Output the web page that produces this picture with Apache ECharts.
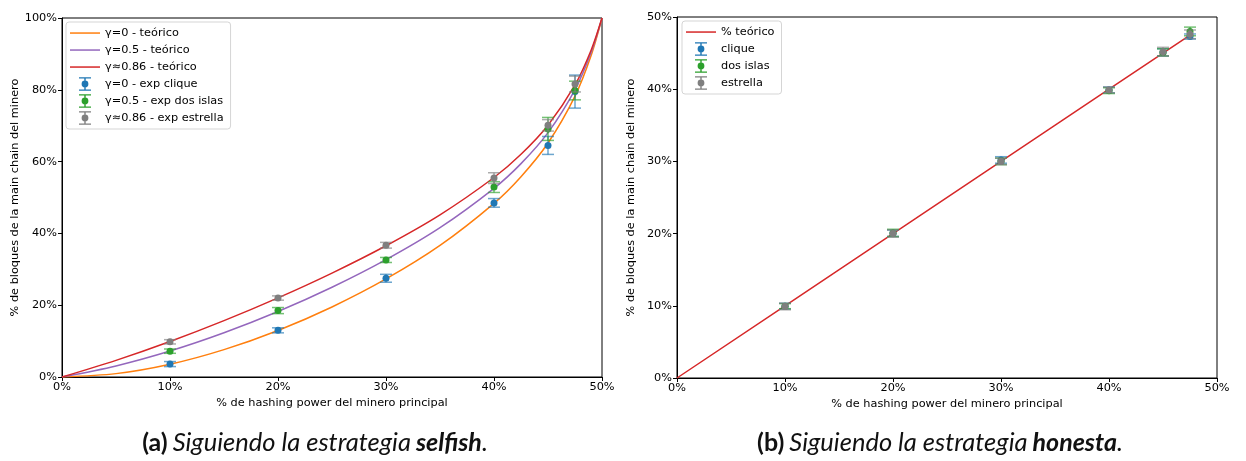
<!DOCTYPE html>
<html>
<head>
<meta charset="utf-8">
<script src="https://cdn.jsdelivr.net/npm/echarts@6/dist/echarts.min.js"></script>
<style>
  html, body { margin: 0; padding: 0; background: #fff; }
  #chart { width: 1246px; height: 461px; }
</style>
</head>
<body>
<div id="chart"></div>
<script>
// ---- Panel (a): selfish strategy ----
// theoretical revenue curves (x = hashing power %, y = share of main-chain blocks %)
const alphaPts = [0, 5, 10, 15, 20, 25, 30, 35, 40, 42.5, 45, 47.5, 49, 50];
const teoG0    = [0, 0.94, 3.56, 7.63, 12.97, 19.51, 27.31, 36.65, 48.37, 55.80, 65.18, 78.25, 89.63, 100];
const teoG05   = [0, 3.09, 7.24, 12.32, 18.24, 25.00, 32.69, 41.60, 52.56, 59.43, 68.06, 80.06, 90.49, 100];
const teoG086  = [0, 4.64, 9.89, 15.70, 22.04, 28.95, 36.56, 45.17, 55.57, 62.04, 70.14, 81.37, 91.11, 100];

// experimental runs
const expX = [10, 20, 30, 40, 45, 47.5];
const cliqueA      = [3.6, 13.0, 27.5, 48.5, 64.5, 79.5];
const cliqueAErr   = [0.7, 0.7, 1.1, 1.2, 2.5, 4.6];
const dosIslasA    = [7.2, 18.5, 32.6, 52.9, 69.1, 79.8];
const dosIslasAErr = [0.6, 0.85, 0.7, 1.5, 3.2, 2.6];
const estrellaA    = [9.8, 22.0, 36.7, 55.4, 70.1, 81.6];
const estrellaAErr = [0.6, 0.6, 0.8, 1.5, 1.6, 2.2];

// ---- Panel (b): honest strategy ----
const teoHonestX = [0, 10, 20, 30, 40, 45, 47.5];
const teoHonestY = [0, 10, 20, 30, 40, 45, 47.5];
const cliqueB      = [9.95, 20.05, 30.2, 39.9, 45.1, 47.3];
const cliqueBErr   = [0.4, 0.45, 0.45, 0.4, 0.5, 0.35];
const dosIslasB    = [9.95, 20.1, 30.0, 39.8, 45.1, 48.0];
const dosIslasBErr = [0.35, 0.5, 0.45, 0.4, 0.5, 0.6];
const estrellaB    = [9.9, 20.0, 30.0, 39.9, 45.2, 47.6];
const estrellaBErr = [0.45, 0.5, 0.45, 0.4, 0.6, 0.6];

const C = {
  orange: '#ff7f0e', purple: '#9467bd', red: '#d62728',
  blue: '#1f77b4', green: '#2ca02c', gray: '#7f7f7f'
};
const FONT = 'DejaVu Sans';
const FS = 11.3;

// legend glyphs: a plain line, and a point with error bar (corner moveTo's fix the box)
const LINE_ICON = 'path://M0 0 L0 0 M30 14 L30 14 M0 6.3 H30 V7.8 H0 Z';
const ERR_ICON = 'path://M0 0 L0 0 M30 14 L30 14 ' +
  'M9 0.2 H21 V1.6 H9 Z M14.3 0.2 H15.7 V13.8 H14.3 Z M9 12.4 H21 V13.8 H9 Z ' +
  'M18.4 7 A3.4 3.4 0 1 1 11.6 7 A3.4 3.4 0 1 1 18.4 7 Z';

function zip3(xs, ys, es) { return xs.map((x, i) => [x, ys[i], es[i]]); }
function zip2(xs, ys) { return xs.map((x, i) => [x, ys[i]]); }

function errRender(color) {
  return function (params, api) {
    const x = api.value(0), y = api.value(1), e = api.value(2);
    const p = api.coord([x, y]);
    const lo = api.coord([x, y - e]);
    const hi = api.coord([x, y + e]);
    const hw = 6;
    const ls = { stroke: color, lineWidth: 1.5, opacity: 0.65 };
    return {
      type: 'group',
      children: [
        { type: 'line', shape: { x1: p[0], y1: lo[1], x2: p[0], y2: hi[1] }, style: ls },
        { type: 'line', shape: { x1: p[0] - hw, y1: lo[1], x2: p[0] + hw, y2: lo[1] }, style: ls },
        { type: 'line', shape: { x1: p[0] - hw, y1: hi[1], x2: p[0] + hw, y2: hi[1] }, style: ls },
        { type: 'circle', shape: { cx: p[0], cy: p[1], r: 3.5 }, style: { fill: color } }
      ]
    };
  };
}

function lineSeries(name, xs, ys, color, idx) {
  return {
    name, type: 'line', xAxisIndex: idx, yAxisIndex: idx,
    data: zip2(xs, ys), smooth: 0.3, symbol: 'none',
    lineStyle: { color, width: 1.5 }, itemStyle: { color },
    silent: true, z: 2
  };
}
function errSeries(name, xs, ys, es, color, idx) {
  return {
    name, type: 'custom', xAxisIndex: idx, yAxisIndex: idx,
    data: zip3(xs, ys, es), renderItem: errRender(color),
    itemStyle: { color }, silent: true, z: 3
  };
}

function xAxis(idx) {
  return {
    type: 'value', gridIndex: idx, min: 0, max: 50, interval: 10,
    name: '% de hashing power del minero principal',
    nameLocation: 'middle', nameGap: 19,
    nameTextStyle: { fontFamily: FONT, fontSize: FS, color: '#000' },
    axisLine: { show: true, lineStyle: { color: '#000', width: 1 } },
    axisTick: { show: true, length: 4, lineStyle: { color: '#000' } },
    axisLabel: { formatter: '{value}%', fontFamily: FONT, fontSize: FS, color: '#000', margin: 5 },
    splitLine: { show: false }
  };
}
function yAxis(idx, max, interval) {
  return {
    type: 'value', gridIndex: idx, min: 0, max, interval,
    name: '% de bloques de la main chain del minero',
    nameLocation: 'middle', nameGap: 40,
    nameTextStyle: { fontFamily: FONT, fontSize: FS, color: '#000' },
    axisLine: { show: true, lineStyle: { color: '#000', width: 1 } },
    axisTick: { show: true, length: 4, lineStyle: { color: '#000' } },
    axisLabel: { formatter: '{value}%', fontFamily: FONT, fontSize: FS, color: '#000', margin: 5 },
    splitLine: { show: false }
  };
}

const legendBase = {
  orient: 'vertical', itemWidth: 30, itemHeight: 14, itemGap: 3,
  textStyle: { fontFamily: FONT, fontSize: FS, color: '#000' },
  borderColor: '#d5d5d5', borderWidth: 1, borderRadius: 3,
  backgroundColor: 'rgba(255,255,255,0.85)', padding: [4, 7, 4, 4],
  selectedMode: false
};

const captionRich = {
  b:  { fontFamily: 'Lato', fontWeight: 'bold', fontSize: 25, color: '#111' },
  i:  { fontFamily: 'Lato', fontStyle: 'italic', fontWeight: 'normal', fontSize: 25.5, color: '#111' },
  bi: { fontFamily: 'Lato', fontStyle: 'italic', fontWeight: 'bold', fontSize: 25, color: '#111' }
};

const chart = echarts.init(document.getElementById('chart'), null, { renderer: 'canvas' });
chart.setOption({
  animation: false,
  backgroundColor: '#fff',
  title: [
    { text: '{b|(a)} {i|Siguiendo la estrategia} {bi|selfish}{i|.}', left: 310, top: 425, textAlign: 'center',
      textStyle: { fontWeight: 'normal', rich: captionRich } },
    { text: '{b|(b)} {i|Siguiendo la estrategia} {bi|honesta}{i|.}', left: 935, top: 425, textAlign: 'center',
      textStyle: { fontWeight: 'normal', rich: captionRich } }
  ],
  grid: [
    { left: 62, top: 18, width: 540, height: 359, show: true, borderColor: '#000', borderWidth: 1, backgroundColor: 'transparent' },
    { left: 677, top: 17, width: 540, height: 361, show: true, borderColor: '#000', borderWidth: 1, backgroundColor: 'transparent' }
  ],
  xAxis: [xAxis(0), xAxis(1)],
  yAxis: [yAxis(0, 100, 20), yAxis(1, 50, 10)],
  legend: [
    Object.assign({}, legendBase, {
      left: 66, top: 22,
      data: [
        { name: 'γ=0 - teórico', icon: LINE_ICON },
        { name: 'γ=0.5 - teórico', icon: LINE_ICON },
        { name: 'γ≈0.86 - teórico', icon: LINE_ICON },
        { name: 'γ=0 - exp clique', icon: ERR_ICON },
        { name: 'γ=0.5 - exp dos islas', icon: ERR_ICON },
        { name: 'γ≈0.86 - exp estrella', icon: ERR_ICON }
      ]
    }),
    Object.assign({}, legendBase, {
      left: 682, top: 21,
      data: [
        { name: '% teórico', icon: LINE_ICON },
        { name: 'clique', icon: ERR_ICON },
        { name: 'dos islas', icon: ERR_ICON },
        { name: 'estrella', icon: ERR_ICON }
      ]
    })
  ],
  series: [
    lineSeries('γ=0 - teórico', alphaPts, teoG0, C.orange, 0),
    lineSeries('γ=0.5 - teórico', alphaPts, teoG05, C.purple, 0),
    lineSeries('γ≈0.86 - teórico', alphaPts, teoG086, C.red, 0),
    errSeries('γ=0 - exp clique', expX, cliqueA, cliqueAErr, C.blue, 0),
    errSeries('γ=0.5 - exp dos islas', expX, dosIslasA, dosIslasAErr, C.green, 0),
    errSeries('γ≈0.86 - exp estrella', expX, estrellaA, estrellaAErr, C.gray, 0),

    Object.assign(lineSeries('% teórico', teoHonestX, teoHonestY, C.red, 1), { smooth: false }),
    errSeries('clique', expX, cliqueB, cliqueBErr, C.blue, 1),
    errSeries('dos islas', expX, dosIslasB, dosIslasBErr, C.green, 1),
    errSeries('estrella', expX, estrellaB, estrellaBErr, C.gray, 1)
  ]
});
</script>
</body>
</html>
